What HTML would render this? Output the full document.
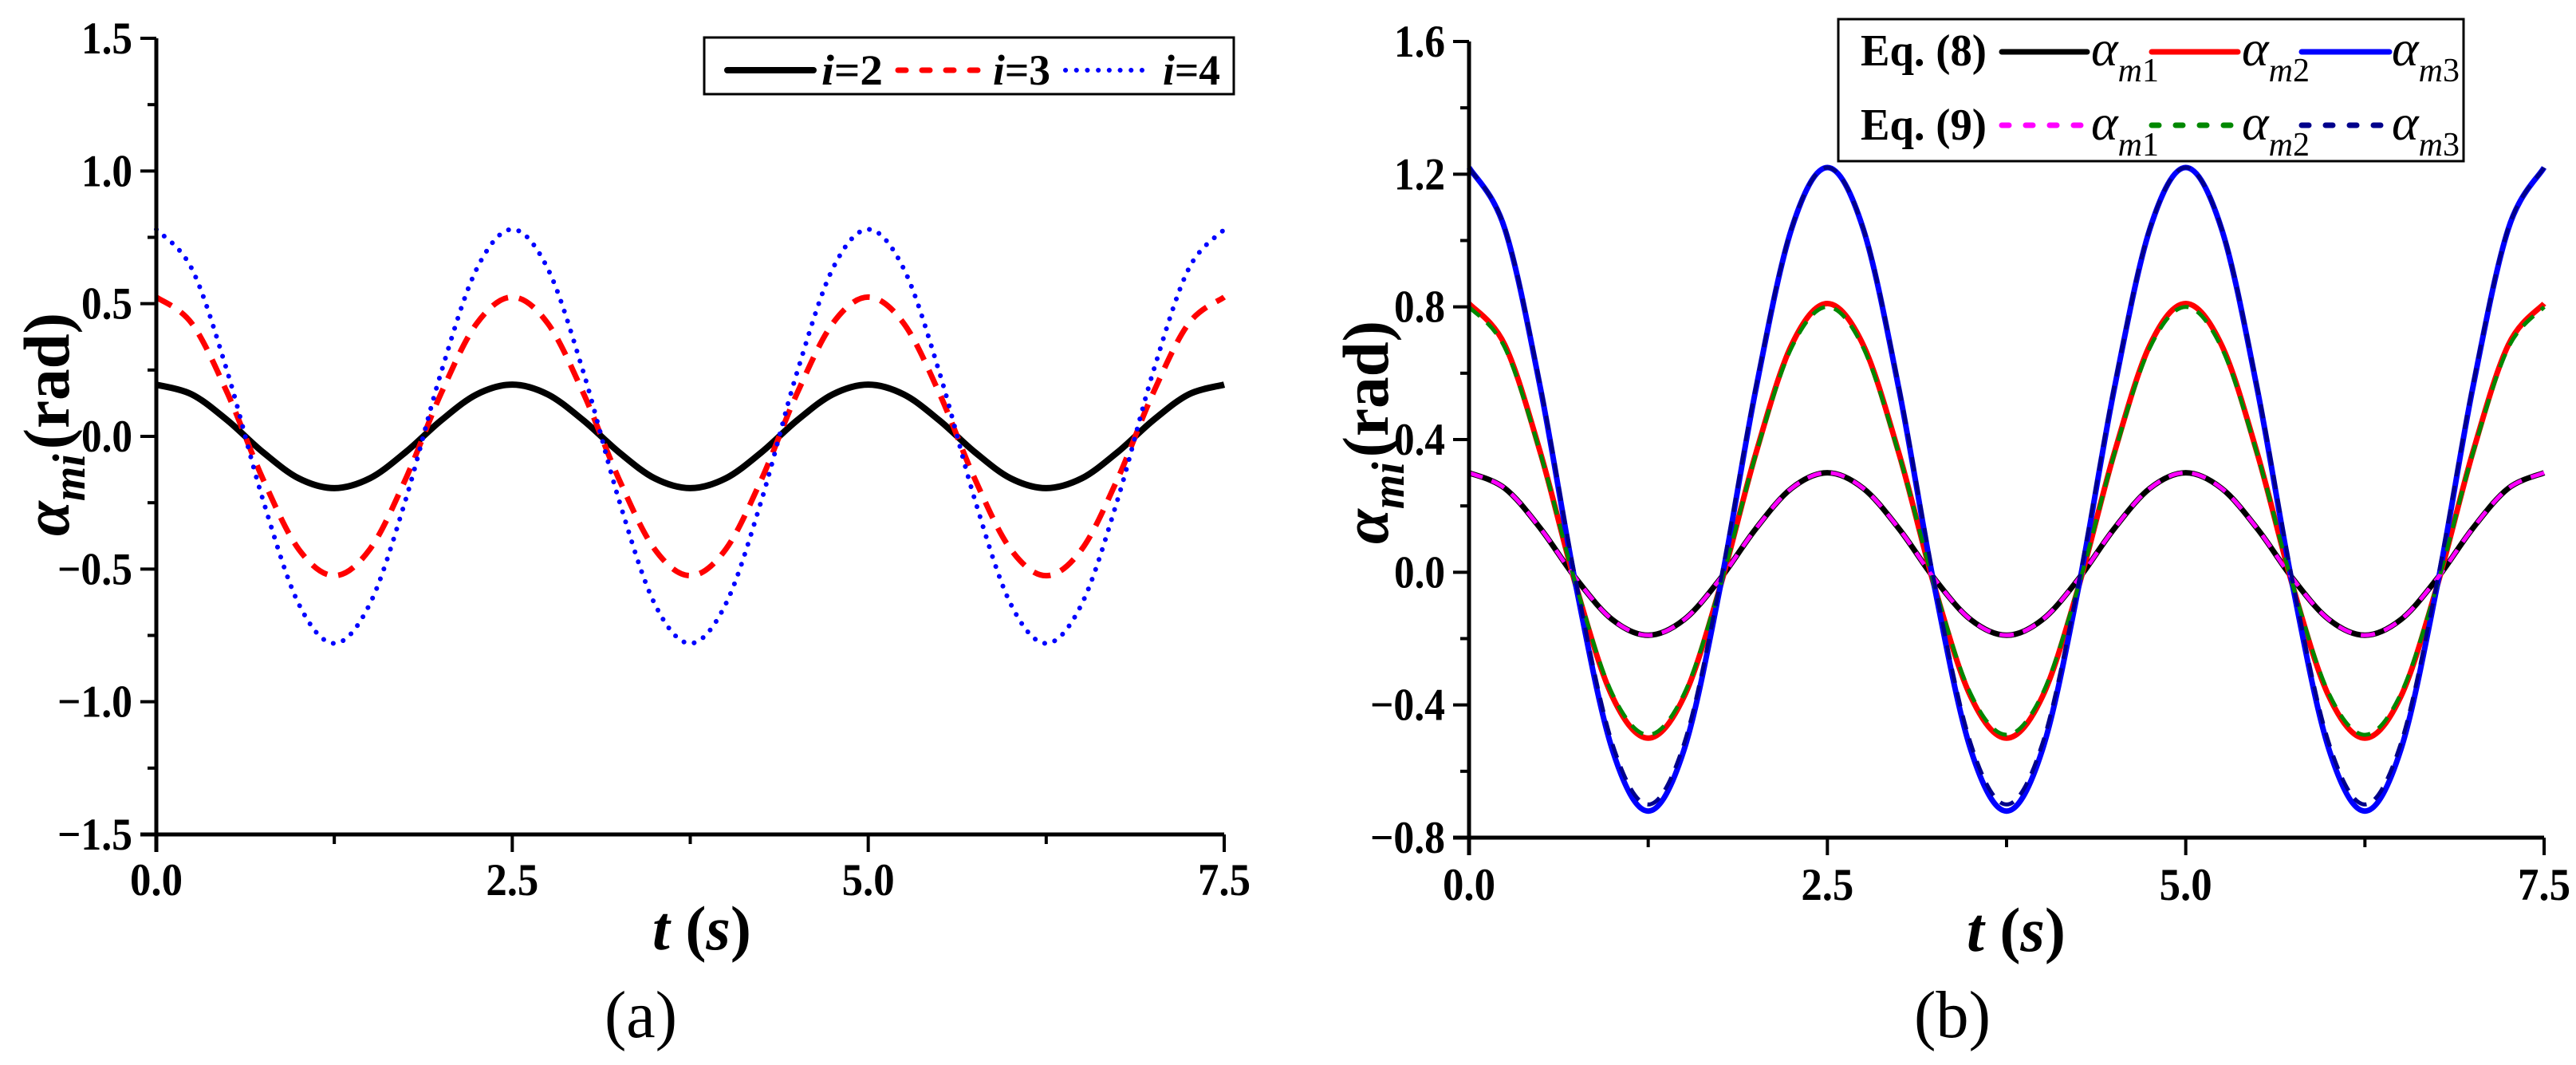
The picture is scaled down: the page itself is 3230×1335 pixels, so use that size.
<!DOCTYPE html>
<html><head><meta charset="utf-8">
<style>
html,body{margin:0;padding:0;background:#fff;}
svg{display:block;}
svg text{font-family:"Liberation Serif","Times New Roman",Times,serif;}
</style></head>
<body>
<svg id="fig" width="3230" height="1335" viewBox="0 0 3230 1335" xmlns="http://www.w3.org/2000/svg">
<g id="plotA"></g>
<g id="plotB"></g>

<!-- Panel A text -->
<text x="818" y="1190" font-size="78" font-weight="bold" textLength="124" lengthAdjust="spacingAndGlyphs"><tspan font-style="italic">t</tspan> (<tspan font-style="italic">s</tspan>)</text>
<text x="758" y="1300" font-size="84" textLength="91" lengthAdjust="spacingAndGlyphs">(a)</text>
<text transform="translate(86,672) rotate(-90)" font-size="82" font-weight="bold" textLength="280" lengthAdjust="spacingAndGlyphs"><tspan font-style="italic">α</tspan><tspan font-style="italic" font-size="58" dy="20">mi</tspan><tspan dy="-20" dx="6">(rad)</tspan></text>

<!-- Panel A legend -->
<g>
<rect x="883" y="47" width="664" height="71" fill="#fff" stroke="#000" stroke-width="3"/>
<line x1="912" y1="88" x2="1020" y2="88" stroke="#000" stroke-width="8" stroke-linecap="round"/>
<text x="1030" y="106" font-size="54" font-weight="bold" textLength="77" lengthAdjust="spacingAndGlyphs"><tspan font-style="italic">i</tspan>=2</text>
<line x1="1126" y1="88" x2="1226" y2="88" stroke="#f00" stroke-width="7" stroke-linecap="round" stroke-dasharray="10 20"/>
<text x="1245" y="106" font-size="54" font-weight="bold" textLength="72" lengthAdjust="spacingAndGlyphs"><tspan font-style="italic">i</tspan>=3</text>
<line x1="1336" y1="88" x2="1432" y2="88" stroke="#00f" stroke-width="6" stroke-linecap="round" stroke-dasharray="0.1 13.6"/>
<text x="1458" y="106" font-size="54" font-weight="bold" textLength="72" lengthAdjust="spacingAndGlyphs"><tspan font-style="italic">i</tspan>=4</text>
</g>

<!-- Panel B text -->
<text x="2466" y="1192" font-size="78" font-weight="bold" textLength="124" lengthAdjust="spacingAndGlyphs"><tspan font-style="italic">t</tspan> (<tspan font-style="italic">s</tspan>)</text>
<text x="2400" y="1300" font-size="84" textLength="96" lengthAdjust="spacingAndGlyphs">(b)</text>
<text transform="translate(1740,682) rotate(-90)" font-size="82" font-weight="bold" textLength="280" lengthAdjust="spacingAndGlyphs"><tspan font-style="italic">α</tspan><tspan font-style="italic" font-size="58" dy="20">mi</tspan><tspan dy="-20" dx="6">(rad)</tspan></text>

<!-- Panel B legend -->
<g>
<rect x="2305" y="24" width="784" height="178" fill="#fff" stroke="#000" stroke-width="3"/>
<text x="2333" y="82" font-size="56" font-weight="bold" textLength="158" lengthAdjust="spacingAndGlyphs">Eq. (8)</text>
<text x="2333" y="175" font-size="56" font-weight="bold" textLength="158" lengthAdjust="spacingAndGlyphs">Eq. (9)</text>
<line x1="2510" y1="65" x2="2617" y2="65" stroke="#000" stroke-width="7" stroke-linecap="round"/>
<line x1="2698" y1="65" x2="2806" y2="65" stroke="#f00" stroke-width="7" stroke-linecap="round"/>
<line x1="2886" y1="65" x2="2996" y2="65" stroke="#00f" stroke-width="7" stroke-linecap="round"/>
<line x1="2510" y1="157" x2="2617" y2="157" stroke="#f0f" stroke-width="7" stroke-linecap="round" stroke-dasharray="9 21"/>
<line x1="2698" y1="157" x2="2806" y2="157" stroke="#080" stroke-width="7" stroke-linecap="round" stroke-dasharray="9 21"/>
<line x1="2886" y1="157" x2="2996" y2="157" stroke="#00008b" stroke-width="7" stroke-linecap="round" stroke-dasharray="9 21"/>
<text x="2622" y="82" font-size="64" font-style="italic">α<tspan font-size="42" dy="20">m</tspan><tspan font-size="42" font-style="normal">1</tspan></text>
<text x="2811" y="82" font-size="64" font-style="italic">α<tspan font-size="42" dy="20">m</tspan><tspan font-size="42" font-style="normal">2</tspan></text>
<text x="2999" y="82" font-size="64" font-style="italic">α<tspan font-size="42" dy="20">m</tspan><tspan font-size="42" font-style="normal">3</tspan></text>
<text x="2622" y="175" font-size="64" font-style="italic">α<tspan font-size="42" dy="20">m</tspan><tspan font-size="42" font-style="normal">1</tspan></text>
<text x="2811" y="175" font-size="64" font-style="italic">α<tspan font-size="42" dy="20">m</tspan><tspan font-size="42" font-style="normal">2</tspan></text>
<text x="2999" y="175" font-size="64" font-style="italic">α<tspan font-size="42" dy="20">m</tspan><tspan font-size="42" font-style="normal">3</tspan></text>
</g>
</svg>
<script>
// ---- shared data ----
const tValues = [0,0.25,0.5,0.75,1,1.25,1.5,1.75,2,2.25,2.5,2.75,3,3.25,3.5,3.75,4,4.25,4.5,4.75,5,5.25,5.5,5.75,6,6.25,6.5,6.75,7,7.25,7.5];
const xTicksLabels = ["0.0","2.5","5.0","7.5"];
const xTickValues = [0,2.5,5,7.5];

// ---- panel A data ----
const seriesI2 = [0.195,0.158,0.060,-0.060,-0.158,-0.195,-0.158,-0.060,0.060,0.158,0.195,0.158,0.060,-0.060,-0.158,-0.195,-0.158,-0.060,0.060,0.158,0.195,0.158,0.060,-0.060,-0.158,-0.195,-0.158,-0.060,0.060,0.158,0.195];
const seriesI3 = [0.525,0.425,0.162,-0.162,-0.425,-0.525,-0.425,-0.162,0.162,0.425,0.525,0.425,0.162,-0.162,-0.425,-0.525,-0.425,-0.162,0.162,0.425,0.525,0.425,0.162,-0.162,-0.425,-0.525,-0.425,-0.162,0.162,0.425,0.525];
const seriesI4 = [0.780,0.631,0.241,-0.241,-0.631,-0.780,-0.631,-0.241,0.241,0.631,0.780,0.631,0.241,-0.241,-0.631,-0.780,-0.631,-0.241,0.241,0.631,0.780,0.631,0.241,-0.241,-0.631,-0.780,-0.631,-0.241,0.241,0.631,0.780];
const yTicksA = ["1.5","1.0","0.5","0.0","\u22120.5","\u22121.0","\u22121.5"];
const yTickValuesA = [1.5,1.0,0.5,0,-0.5,-1.0,-1.5];

// ---- panel B data ----
const eq8m1 = [0.300,0.253,0.131,-0.021,-0.143,-0.190,-0.143,-0.021,0.131,0.253,0.300,0.253,0.131,-0.021,-0.143,-0.190,-0.143,-0.021,0.131,0.253,0.300,0.253,0.131,-0.021,-0.143,-0.190,-0.143,-0.021,0.131,0.253,0.300];
const eq8m2 = [0.810,0.685,0.357,-0.047,-0.375,-0.500,-0.375,-0.047,0.357,0.685,0.810,0.685,0.357,-0.047,-0.375,-0.500,-0.375,-0.047,0.357,0.685,0.810,0.685,0.357,-0.047,-0.375,-0.500,-0.375,-0.047,0.357,0.685,0.810];
const eq8m3 = [1.220,1.035,0.550,-0.050,-0.535,-0.720,-0.535,-0.050,0.550,1.035,1.220,1.035,0.550,-0.050,-0.535,-0.720,-0.535,-0.050,0.550,1.035,1.220,1.035,0.550,-0.050,-0.535,-0.720,-0.535,-0.050,0.550,1.035,1.220];
const eq9m1 = [0.300,0.253,0.131,-0.021,-0.143,-0.190,-0.143,-0.021,0.131,0.253,0.300,0.253,0.131,-0.021,-0.143,-0.190,-0.143,-0.021,0.131,0.253,0.300,0.253,0.131,-0.021,-0.143,-0.190,-0.143,-0.021,0.131,0.253,0.300];
const eq9m2 = [0.800,0.677,0.354,-0.044,-0.367,-0.490,-0.367,-0.044,0.354,0.677,0.800,0.677,0.354,-0.044,-0.367,-0.490,-0.367,-0.044,0.354,0.677,0.800,0.677,0.354,-0.044,-0.367,-0.490,-0.367,-0.044,0.354,0.677,0.800];
const eq9m3 = [1.220,1.037,0.557,-0.037,-0.517,-0.700,-0.517,-0.037,0.557,1.037,1.220,1.037,0.557,-0.037,-0.517,-0.700,-0.517,-0.037,0.557,1.037,1.220,1.037,0.557,-0.037,-0.517,-0.700,-0.517,-0.037,0.557,1.037,1.220];
const yTicksB = ["1.6","1.2","0.8","0.4","0.0","\u22120.4","\u22120.8"];
const yTickValuesB = [1.6,1.2,0.8,0.4,0,-0.4,-0.8];

const NS = "http://www.w3.org/2000/svg";
function mk(tag, parent){ const e=document.createElementNS(NS,tag); parent.appendChild(e); return e; }

function makeAxes(x0,x1,y0,y1,xmin,xmax,ymin,ymax){
  return { x: v => x0 + (v-xmin)/(xmax-xmin)*(x1-x0), y: v => y1 - (v-ymin)/(ymax-ymin)*(y1-y0) };
}

function smoothPath(xs, ys, ax){
  const p = xs.map((t,i)=>[ax.x(t), ax.y(ys[i])]);
  let d = "M"+p[0][0].toFixed(1)+","+p[0][1].toFixed(1);
  for(let i=0;i<p.length-1;i++){
    const a=p[Math.max(i-1,0)], b=p[i], c=p[i+1], e=p[Math.min(i+2,p.length-1)];
    const c1=[b[0]+(c[0]-a[0])/6, b[1]+(c[1]-a[1])/6];
    const c2=[c[0]-(e[0]-b[0])/6, c[1]-(e[1]-b[1])/6];
    d += "C"+c1[0].toFixed(1)+","+c1[1].toFixed(1)+" "+c2[0].toFixed(1)+","+c2[1].toFixed(1)+" "+c[0].toFixed(1)+","+c[1].toFixed(1);
  }
  return d;
}

function drawFrame(g, ax, x0,x1,y0,y1, yVals, yLabels, yMinorStep, xLabelY, prefix){
  const yl = mk("line",g);
  
  
  yl.setAttribute("x1",x0); yl.setAttribute("x2",x0); yl.setAttribute("y1",y0); yl.setAttribute("y2",y1+22);
  yl.setAttribute("stroke","#000"); yl.setAttribute("stroke-width","5");
  const xl = mk("line",g);
  
  
  xl.setAttribute("x1",x0-20); xl.setAttribute("x2",x1); xl.setAttribute("y1",y1); xl.setAttribute("y2",y1);
  xl.setAttribute("stroke","#000"); xl.setAttribute("stroke-width","5");
  const ymax=yVals[0], ymin=yVals[yVals.length-1];
  for(let v=ymin; v<=ymax+1e-9; v+=yMinorStep){
    const isMajor = yVals.some(m=>Math.abs(m-v)<1e-6);
    const t = mk("line",g);
    
    
    t.setAttribute("x1",x0-(isMajor?20:11)); t.setAttribute("x2",x0);
    t.setAttribute("y1",ax.y(v)); t.setAttribute("y2",ax.y(v));
    t.setAttribute("stroke","#000"); t.setAttribute("stroke-width","4");
  }
  yVals.forEach((v,i)=>{
    const tx = mk("text",g);
    
    
    const w = yLabels[i].length>3 ? 94 : 64;
    tx.setAttribute("x",x0-30-w); tx.setAttribute("y",ax.y(v)+19);
    tx.setAttribute("font-size","57"); tx.setAttribute("font-weight","bold");
    tx.setAttribute("textLength",w); tx.setAttribute("lengthAdjust","spacingAndGlyphs");
    tx.textContent = yLabels[i];
  });
  for(let v=0; v<=7.5+1e-9; v+=1.25){
    const isMajor = xTickValues.some(m=>Math.abs(m-v)<1e-6);
    const t = mk("line",g);
    
    
    t.setAttribute("x1",ax.x(v)); t.setAttribute("x2",ax.x(v));
    t.setAttribute("y1",y1); t.setAttribute("y2",y1+(isMajor?22:12));
    t.setAttribute("stroke","#000"); t.setAttribute("stroke-width","4");
  }
  xTickValues.forEach((v,i)=>{
    const tx = mk("text",g);
    
    
    tx.setAttribute("x",ax.x(v)-33); tx.setAttribute("y",xLabelY);
    tx.setAttribute("font-size","57"); tx.setAttribute("font-weight","bold");
    tx.setAttribute("textLength",66); tx.setAttribute("lengthAdjust","spacingAndGlyphs");
    tx.textContent = xTicksLabels[i];
  });
}

function drawSeries(g, ax, ys, color, width, dash, cap, name){
  const p = mk("path",g);
  
  
  p.setAttribute("d", smoothPath(tValues, ys, ax));
  p.setAttribute("fill","none"); p.setAttribute("stroke",color); p.setAttribute("stroke-width",width);
  p.setAttribute("stroke-linecap",cap); p.setAttribute("stroke-linejoin","round");
  if(dash) p.setAttribute("stroke-dasharray",dash);
}

// Panel A
const gA = document.getElementById("plotA");
const axA = makeAxes(196,1535,48,1046,0,7.5,-1.5,1.5);
drawSeries(gA, axA, seriesI2, "#000", 8, null, "butt", "series-i2");
drawSeries(gA, axA, seriesI3, "#f00", 7, "22 14", "butt", "series-i3");
drawSeries(gA, axA, seriesI4, "#00f", 6, "0.1 13", "round", "series-i4");
drawFrame(gA, axA, 196,1535,48,1046, yTickValuesA, yTicksA, 0.25, 1122, "a");

// Panel B
const gB = document.getElementById("plotB");
const axB = makeAxes(1842,3190,52,1050,0,7.5,-0.8,1.6);
drawSeries(gB, axB, eq8m1, "#000", 7, null, "butt", "series-eq8-m1");
drawSeries(gB, axB, eq8m2, "#f00", 7, null, "butt", "series-eq8-m2");
drawSeries(gB, axB, eq8m3, "#00f", 7, null, "butt", "series-eq8-m3");
drawSeries(gB, axB, eq9m1, "#f0f", 5, "18 12", "butt", "series-eq9-m1");
drawSeries(gB, axB, eq9m2, "#080", 5, "18 12", "butt", "series-eq9-m2");
drawSeries(gB, axB, eq9m3, "#00008b", 5, "18 12", "butt", "series-eq9-m3");
drawFrame(gB, axB, 1842,3190,52,1050, yTickValuesB, yTicksB, 0.2, 1128, "b");
</script>
</body></html>
